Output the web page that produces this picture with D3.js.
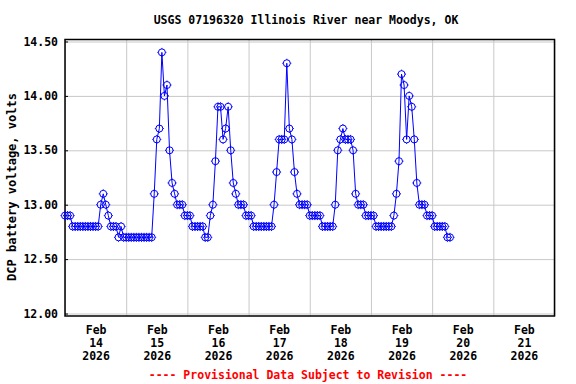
<!DOCTYPE html>
<html>
<head>
<meta charset="utf-8">
<script src="https://cdn.jsdelivr.net/npm/d3@7"></script>
<style>
  body { margin: 0; background: #fff; }
  text { font-family: "DejaVu Sans Mono", "Liberation Mono", monospace; font-weight: bold; }
</style>
</head>
<body>
<svg id="chart" width="576" height="384"></svg>
<script>
// hourly DCP battery voltage readings, starting Feb 14 2026 00:00
const startTime = Date.UTC(2026, 1, 14, 0)
const voltage = [
    12.9, 12.9, 12.9,
    12.8, 12.8, 12.8, 12.8, 12.8, 12.8, 12.8, 12.8, 12.8, 12.8, 12.8,
    13.0, 13.1, 13.0, 12.9,
    12.8, 12.8, 12.8,
    12.7, 12.8,
    12.7, 12.7, 12.7, 12.7, 12.7, 12.7, 12.7, 12.7, 12.7, 12.7, 12.7, 12.7,
    13.1, 13.6, 13.7, 14.4, 14.0, 14.1, 13.5, 13.2, 13.1,
    13.0, 13.0, 13.0,
    12.9, 12.9, 12.9,
    12.8, 12.8, 12.8, 12.8, 12.8,
    12.7, 12.7,
    12.9, 13.0, 13.4, 13.9, 13.9, 13.6, 13.7, 13.9, 13.5, 13.2, 13.1,
    13.0, 13.0, 13.0,
    12.9, 12.9, 12.9,
    12.8, 12.8, 12.8, 12.8, 12.8, 12.8, 12.8, 12.8,
    13.0, 13.3, 13.6, 13.6, 13.6, 14.3, 13.7, 13.6, 13.3, 13.1,
    13.0, 13.0, 13.0, 13.0,
    12.9, 12.9, 12.9, 12.9, 12.9,
    12.8, 12.8, 12.8, 12.8, 12.8,
    13.0, 13.5, 13.6, 13.7, 13.6, 13.6, 13.6, 13.5, 13.1,
    13.0, 13.0, 13.0,
    12.9, 12.9, 12.9, 12.9,
    12.8, 12.8, 12.8, 12.8, 12.8, 12.8, 12.8,
    12.9, 13.1, 13.4, 14.2, 14.1, 13.6, 14.0, 13.9, 13.6, 13.2,
    13.0, 13.0, 13.0,
    12.9, 12.9, 12.9,
    12.8, 12.8, 12.8, 12.8, 12.8,
    12.7, 12.7
]
const yTicks = [12.0, 12.5, 13.0, 13.5, 14.0, 14.5]
const dayTicks = [14, 15, 16, 17, 18, 19, 20, 21]
const titleText = 'USGS 07196320 Illinois River near Moodys, OK'
const yLabel = 'DCP battery voltage, volts'
const footerText = '---- Provisional Data Subject to Revision ----'

const svg = d3.select('#chart')
const plotL = 65, plotR = 554.5, plotT = 39.5, plotB = 316

let x = d3.scaleUtc()
    .domain([new Date(Date.UTC(2026, 1, 14)), new Date(Date.UTC(2026, 1, 22))])
    .range([plotL, plotR])
let y = d3.scaleLinear()
    .domain([12, 14.5])
    .range([313.5, 41.5])

let data = voltage.map((v, i) => ({ t: d3.utcHour.offset(new Date(startTime), i), v: v }))

// grid
svg.append('g')
    .attr('transform', `translate(${plotL},0)`)
    .call(d3.axisLeft(y).tickValues(yTicks).tickSize(-(plotR - plotL)).tickFormat(''))
    .call(g => g.select('.domain').remove())
    .selectAll('line').attr('stroke', '#c8c8c8')

svg.append('g')
    .attr('transform', `translate(0,${plotB})`)
    .call(d3.axisBottom(x).ticks(d3.utcDay.every(1)).tickSize(-(plotB - plotT)).tickFormat(''))
    .call(g => g.select('.domain').remove())
    .selectAll('line').attr('stroke', '#c8c8c8')

// y axis labels + inward ticks
svg.append('g')
    .attr('transform', `translate(${plotL},0)`)
    .call(d3.axisLeft(y).tickValues(yTicks).tickSize(-3).tickPadding(7).tickFormat(d3.format('.2f')))
    .call(g => g.select('.domain').remove())
    .call(g => g.selectAll('line').attr('stroke', '#000'))
    .selectAll('text')
    .attr('font-size', '11.5px')
    .attr('font-family', '"DejaVu Sans Mono", monospace')
    .attr('font-weight', 'bold')
    .attr('fill', '#000')

// x labels at noon of each day
let xAxis = svg.append('g')
    .attr('transform', `translate(0,${plotB})`)
    .call(d3.axisBottom(x)
        .tickValues(dayTicks.map(d => new Date(Date.UTC(2026, 1, d, 12))))
        .tickSize(0)
        .tickFormat(''))
xAxis.select('.domain').remove()
xAxis.selectAll('.tick text').remove()
xAxis.selectAll('.tick')
    .append('text')
    .attr('text-anchor', 'middle')
    .attr('font-size', '11.5px')
    .attr('fill', '#000')
    .each(function (d) {
        let t = d3.select(this)
        let lines = [d3.utcFormat('%b')(d), d3.utcFormat('%d')(d), d3.utcFormat('%Y')(d)]
        lines.forEach((s, i) => {
            t.append('tspan').attr('x', 0).attr('y', 18 + i * 13).text(s)
        })
    })

// frame
svg.append('rect')
    .attr('x', plotL).attr('y', plotT)
    .attr('width', plotR - plotL).attr('height', plotB - plotT)
    .attr('fill', 'none')
    .attr('stroke', '#000')
    .attr('stroke-width', 1.5)

// series
let line = d3.line()
    .x(d => x(d.t))
    .y(d => y(d.v))

svg.append('path')
    .datum(data)
    .attr('d', line)
    .attr('fill', 'none')
    .attr('stroke', '#0000ff')
    .attr('stroke-width', 1)

let marks = svg.append('g')
    .selectAll('g')
    .data(data)
    .enter()
    .append('g')
    .attr('transform', d => `translate(${x(d.t)},${y(d.v)})`)
marks.append('circle')
    .attr('r', 3.5)
    .attr('fill', 'none')
    .attr('stroke', '#0000ff')
    .attr('stroke-width', 1)
marks.append('path')
    .attr('d', 'M0,-4.5V-3.5M0,3.5V4.5M-4.5,0H-3.5M3.5,0H4.5')
    .attr('stroke', '#0000ff')
    .attr('stroke-width', 1)

// texts
svg.append('text')
    .attr('x', 306).attr('y', 24)
    .attr('text-anchor', 'middle')
    .attr('font-size', '11.5px')
    .text(titleText)

svg.append('text')
    .attr('transform', 'translate(16,187) rotate(-90)')
    .attr('text-anchor', 'middle')
    .attr('font-size', '12px')
    .text(yLabel)

svg.append('text')
    .attr('x', 308).attr('y', 379)
    .attr('text-anchor', 'middle')
    .attr('font-size', '11.5px')
    .attr('fill', '#ff0000')
    .text(footerText)
</script>
</body>
</html>
